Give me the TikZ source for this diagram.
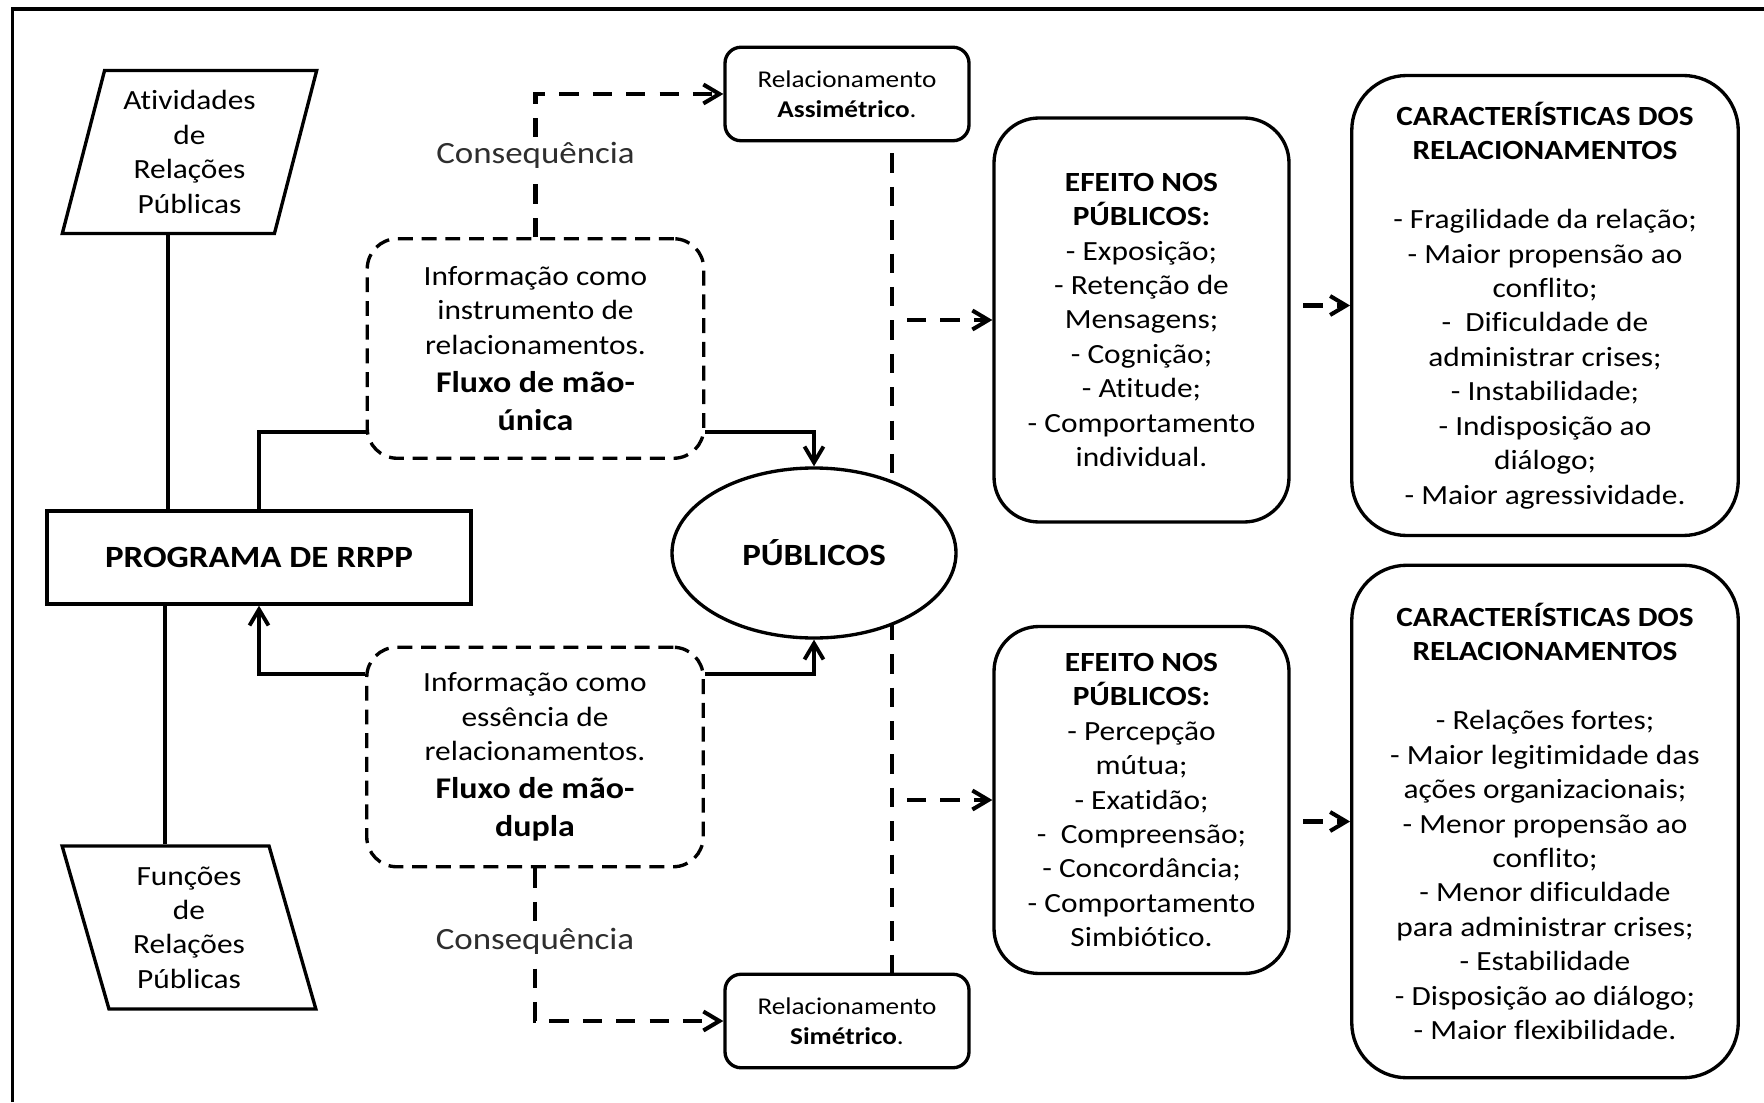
\documentclass[tikz,border=0pt]{standalone}
\usepackage{fontspec}
\setmainfont{Carlito}[FakeStretch=1.13, Ligatures=NoCommon]
\usepackage{tikz}
\usetikzlibrary{shapes.geometric,arrows.meta,calc}
\definecolor{consGray}{HTML}{2E2E2E}
\newcommand{\txtnormal}{\fontsize{15.8pt}{19.6pt}\selectfont}
\newcommand{\txtbold}{\fontsize{17.1pt}{21pt}\selectfont\bfseries}
\newcommand{\txtbig}{\fontsize{17.6pt}{21.5pt}\selectfont\bfseries}
\newcommand{\txtsmall}{\fontsize{13.7pt}{17pt}\selectfont}

\begin{document}
\begin{tikzpicture}[x=1cm, y=1cm, every node/.style={font=\txtnormal},
    >={Straight Barb[length=0.32cm,width=0.38cm]},
    solidline/.style={line width=2.2pt},
    dashline/.style={line width=2.3pt, dash pattern=on 11pt off 8pt},
    slantbox/.style={draw, line width=1.9pt, trapezium, trapezium stretches=true,
      minimum width=5.09cm, minimum height=3.26cm, inner sep=0pt, align=center},
    infobox/.style={draw, line width=1.9pt, dash pattern=on 8.5pt off 5pt,
      rounded corners=0.6cm, minimum width=6.73cm, minimum height=4.39cm,
      inner sep=0pt, align=center},
    relbox/.style={draw, line width=1.9pt, rounded corners=0.32cm,
      minimum width=4.88cm, minimum height=1.87cm, inner sep=0pt,
      align=center, font=\txtsmall},
    effbox/.style={draw, line width=1.9pt, rounded corners=0.9cm,
      minimum width=5.9cm, inner sep=0pt, align=center},
    charbox/.style={draw, line width=1.9pt, rounded corners=1.1cm,
      minimum width=7.73cm, inner sep=0pt, align=center},
    conslabel/.style={fill=white, inner sep=3pt, text=consGray,
      font=\fontsize{17.6pt}{21pt}\selectfont}]

    \useasboundingbox (0,0) rectangle (35.28,22.04);

    % === Frame (left and top edges) ===
    \draw[line width=2pt] (0.25,0) -- (0.25,21.86) -- (35.28,21.86);

    % === Left column ===
    \node[slantbox, trapezium left angle=75, trapezium right angle=105]
      (ativ) at (3.79,19.0) {Atividades\\de\\Relações\\Públicas};
    \node[slantbox, trapezium left angle=105, trapezium right angle=75]
      (funct) at (3.78,3.49) {Funções\\de\\Relações\\Públicas};
    \node[draw, line width=1.9pt, minimum width=8.48cm, minimum height=1.86cm,
          inner sep=0pt, font=\txtbig] (prog) at (5.18,10.89) {PROGRAMA DE RRPP};

    % === Information boxes ===
    \node[infobox] (info1) at (10.71,15.07)
      {Informação como\\instrumento de\\relacionamentos.\\[2pt]
       {\txtbold Fluxo de mão-}\\[2pt]{\txtbold única}};
    \node[infobox] (info2) at (10.70,6.90)
      {Informação como\\essência de\\relacionamentos.\\[2pt]
       {\txtbold Fluxo de mão-}\\[2pt]{\txtbold dupla}};

    % === Relationship types ===
    \node[relbox] (asym) at (16.94,20.16) {Relacionamento\\\textbf{Assimétrico}.};
    \node[relbox] (sym) at (16.94,1.62) {Relacionamento\\\textbf{Simétrico}.};

    % === Effects and characteristics ===
    \node[effbox, minimum height=8.08cm] (eff1) at (22.83,15.64)
      {\textbf{EFEITO NOS}\\\textbf{PÚBLICOS:}\\- Exposição;\\- Retenção de\\Mensagens;\\
       - Cognição;\\- Atitude;\\- Comportamento\\individual.};
    \node[effbox, minimum height=6.94cm] (eff2) at (22.83,6.04)
      {\textbf{EFEITO NOS}\\\textbf{PÚBLICOS:}\\- Percepção\\mútua;\\- Exatidão;\\
       - \ Compreensão;\\- Concordância;\\- Comportamento\\Simbiótico.};
    \node[charbox, minimum height=9.2cm] (car1) at (30.90,15.93)
      {\textbf{CARACTERÍSTICAS DOS}\\\textbf{RELACIONAMENTOS}\\[19.6pt]
       - Fragilidade da relação;\\- Maior propensão ao\\conflito;\\
       - \ Dificuldade de\\administrar crises;\\- Instabilidade;\\
       - Indisposição ao\\diálogo;\\- Maior agressividade.};
    \node[charbox, minimum height=10.25cm] (car2) at (30.90,5.61)
      {\textbf{CARACTERÍSTICAS DOS}\\\textbf{RELACIONAMENTOS}\\[19.6pt]
       - Relações fortes;\\- Maior legitimidade das\\ações organizacionais;\\
       - Menor propensão ao\\conflito;\\- Menor dificuldade\\
       para administrar crises;\\- Estabilidade\\- Disposição ao diálogo;\\
       - Maior flexibilidade.};

    % === Dashed spine behind the publics ===
    \coordinate (vtop) at ([xshift=0.9cm, yshift=-0.22cm]asym.south);
    \coordinate (vbot) at ([xshift=0.9cm]sym.north);
    \draw[dashline] (vtop) -- (vbot);

    \node[draw, ellipse, line width=1.9pt, fill=white, minimum width=5.68cm,
          minimum height=3.4cm, inner sep=0pt, font=\txtbig] (pub) at (16.28,10.98)
      {PÚBLICOS};

    % === Solid connectors ===
    \draw[solidline] (ativ.bottom side) -- (ativ.bottom side |- prog.north);
    \draw[solidline] (funct.top side) -- (funct.top side |- prog.south);
    \draw[solidline] (prog.north) |- ([yshift=-1.67cm]info1.west);
    \draw[solidline, ->] ([yshift=-1.67cm]info1.east) -| (pub.north);
    \draw[solidline, ->] ([yshift=1.665cm]info2.west) -| (prog.south);
    \draw[solidline, ->] ([yshift=1.665cm]info2.east) -| (pub.south);

    % === Dashed connectors ===
    \draw[dashline, ->] (info1.north) |- node[pos=0.285, conslabel] {Consequência} (asym.west);
    \draw[dashline, ->] (info2.south) |- node[pos=0.24, conslabel] {Consequência} (sym.west);
    \draw[dashline, ->, shorten <=0.3cm] (vtop |- eff1.west) -- (eff1.west);
    \draw[dashline, ->, shorten <=0.3cm] (vtop |- eff2.west) -- (eff2.west);
    \draw[dashline, ->, shorten <=0.25cm] (eff1.east |- car1.west) -- (car1.west);
    \draw[dashline, ->, shorten <=0.25cm] (eff2.east |- car2.west) -- (car2.west);
\end{tikzpicture}
\end{document}
